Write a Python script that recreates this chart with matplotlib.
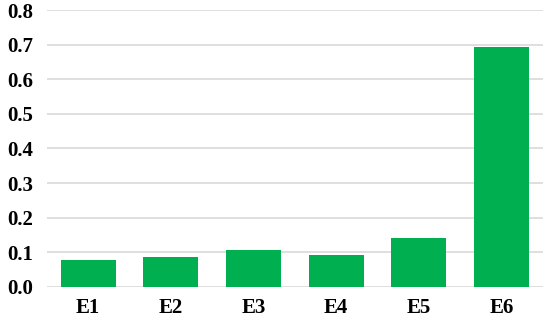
import matplotlib.pyplot as plt

categories = ["E1", "E2", "E3", "E4", "E5", "E6"]
values = [0.078, 0.087, 0.107, 0.092, 0.140, 0.692]
yticks = [0.0, 0.1, 0.2, 0.3, 0.4, 0.5, 0.6, 0.7, 0.8]

plt.rcParams['font.family'] = ['Liberation Serif', 'DejaVu Serif']
plt.rcParams['font.weight'] = 'bold'

fig = plt.figure(figsize=(5.5, 3.26), dpi=100)
ax = fig.add_axes([0.085, 0.12, 0.902, 0.849])

ax.bar(categories, values, width=0.665, color="#00B050", zorder=3)

ax.set_ylim(0, 0.8)
ax.set_xlim(-0.5, 5.5)
ax.set_yticks(yticks)
ax.set_yticklabels([f"{t:.1f}" for t in yticks])
ax.yaxis.grid(True, color="#D9D9D9", linewidth=1.2, zorder=0)
ax.set_axisbelow(True)

for s in ax.spines.values():
    s.set_visible(False)
ax.tick_params(axis='both', length=0, labelsize=15)
ax.tick_params(axis='y', pad=10)
ax.tick_params(axis='x', pad=8)

plt.savefig("out.png", dpi=100)
